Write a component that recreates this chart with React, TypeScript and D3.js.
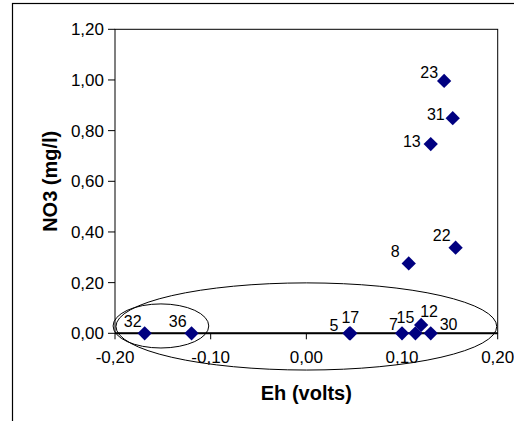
import React from "react";
import * as d3 from "d3";

const labels = ["32", "36", "5", "17", "7", "15", "12", "30", "8", "22", "13", "31", "23"];
const ehValues = [-0.169, -0.12, 0.045, 0.046, 0.1, 0.114, 0.12, 0.13, 0.107, 0.156, 0.13, 0.153, 0.144];
const no3Values = [0, 0, 0, 0, 0, 0, 0.033, 0, 0.276, 0.338, 0.747, 0.849, 0.996];
// label offsets [dx, dy, anchor]
const labelOffsets: [number, number, string][] = [
  [-3, -6, "end"], [-5, -6, "end"], [-11, -2, "end"], [0, -10, "middle"],
  [-4, -3, "end"], [-1, -10, "end"], [-1, -8, "start"], [9, -3, "start"],
  [-9, -6, "end"], [-5, -7, "end"], [-10, 3, "end"], [-8, 2, "end"], [-6, -3, "end"],
];
const xTicks = [-0.2, -0.1, 0, 0.1, 0.2];
const yTicks = [0, 0.2, 0.4, 0.6, 0.8, 1.0, 1.2];
// annotation ellipses in data units: cx, cy, rx, ry
const ellipses = [
  [-0.0, 0.027, 0.199, 0.172],
  [-0.152, 0.029, 0.05, 0.087],
];

const fmt = (v: number) => d3.format(".2f")(v).replace(".", ",").replace("−", "-");

export default function App() {
  const W = 514, H = 421;
  const left = 115, right = 497.7, top = 29.3, bottom = 333.3;
  const x = d3.scaleLinear().domain([-0.2, 0.2]).range([left, right]);
  const y = d3.scaleLinear().domain([0, 1.2]).range([bottom, top]);
  const font = "'Liberation Sans', Arial, sans-serif";
  const diamond = d3.symbol().type(d3.symbolDiamond2).size(130)() as string;
  return (
    <svg width={W} height={H} style={{ position: "absolute", left: 0, top: 0 }} fontFamily={font}>
      <rect x={0} y={0} width={W} height={H} fill="#fff" />
      <rect x={12.5} y={3.5} width={W} height={H} fill="none" stroke="#000" strokeWidth={1.2} />
      <rect x={left} y={top} width={right - left} height={bottom - top} fill="none" stroke="#000" strokeWidth={1} />
      {yTicks.map((t) => (
        <g key={"y" + t}>
          <line x1={left - 7} x2={left} y1={y(t)} y2={y(t)} stroke="#000" />
          <text x={left - 11} y={y(t)} dy="0.35em" textAnchor="end" fontSize={17}>{fmt(t)}</text>
        </g>
      ))}
      {xTicks.map((t) => (
        <g key={"x" + t}>
          <line x1={x(t)} x2={x(t)} y1={y(0)} y2={y(0) + 6} stroke="#000" />
          <text x={x(t)} y={y(0) + 30} textAnchor="middle" fontSize={17}>{fmt(t)}</text>
        </g>
      ))}
      <line x1={left} x2={right} y1={y(0)} y2={y(0)} stroke="#000" strokeWidth={2} />
      {ellipses.map((e, i) => (
        <ellipse key={"e" + i} cx={x(e[0])} cy={y(e[1])} rx={x(e[2]) - x(0)} ry={y(0) - y(e[3])}
          fill="none" stroke="#000" strokeWidth={1} />
      ))}
      {ehValues.map((v, i) => (
        <path key={"p" + i} d={diamond} transform={`translate(${x(v)},${y(no3Values[i])})`} fill="#000080" />
      ))}
      {ehValues.map((v, i) => (
        <text key={"l" + i} x={x(v) + labelOffsets[i][0]} y={y(no3Values[i]) + labelOffsets[i][1]}
          textAnchor={labelOffsets[i][2] as any} fontSize={16} fill="#000">{labels[i]}</text>
      ))}
      <text x={(left + right) / 2} y={400} textAnchor="middle" fontSize={20} fontWeight="bold">Eh (volts)</text>
      <text transform={`translate(57,${(top + bottom) / 2}) rotate(-90)`} textAnchor="middle" fontSize={20} fontWeight="bold">NO3 (mg/l)</text>
    </svg>
  );
}
